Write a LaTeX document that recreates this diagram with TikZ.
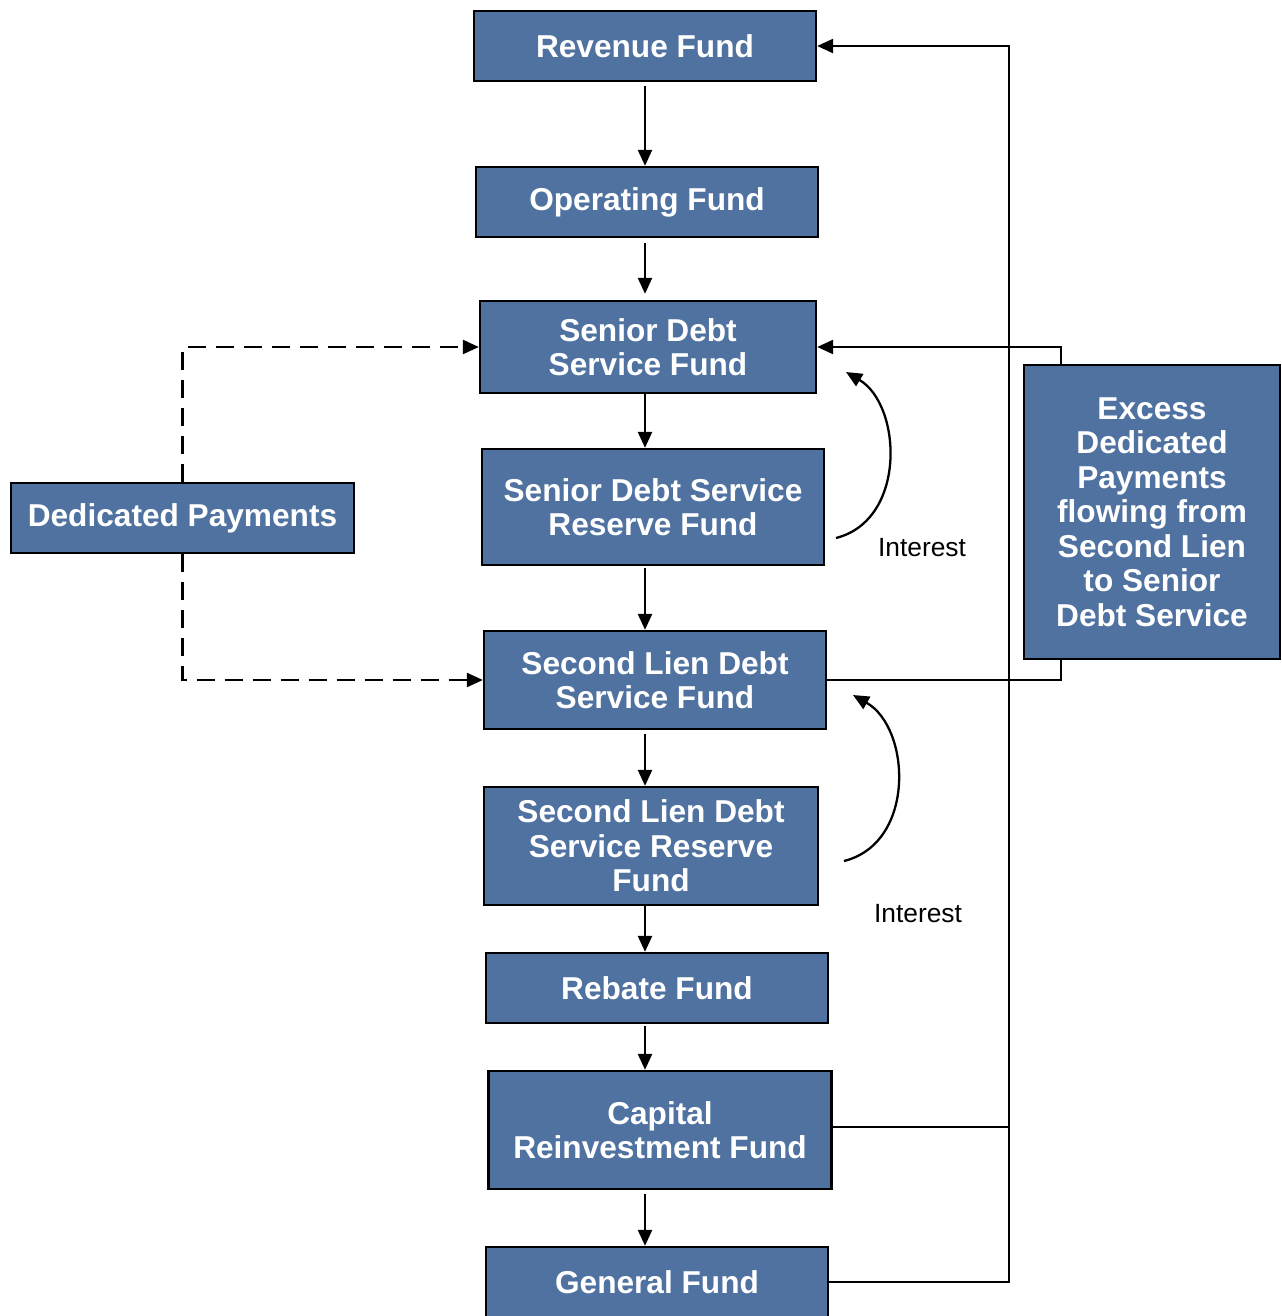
\documentclass[tikz,border=0pt]{standalone}
\usepackage{fontspec}
\setmainfont{Liberation Sans}
\usepackage{tikz}
\usetikzlibrary{arrows.meta}
\definecolor{fundblue}{HTML}{4F72A0}
\tikzset{
  fund/.style={draw=black, line width=0.65pt, fill=fundblue, text=white, align=center, inner sep=0pt,
    font=\fontsize{9}{9.8}\selectfont\bfseries},
  flow/.style={line width=0.65pt, -{Triangle[length=0.16cm, width=0.14cm]}},
  link/.style={line width=0.65pt},
  tag/.style={font=\fontsize{7.5}{9}\selectfont, inner sep=0pt}
}
\begin{document}
\begin{tikzpicture}
			%%%%% START %%%%%
			\useasboundingbox (0, 0) rectangle (12.82, -13.16);
			
			\node[fund, minimum width=3.42cm, minimum height=0.70cm] (rev) at (6.45, -0.46) {Revenue Fund};
			\node[fund, minimum width=3.42cm, minimum height=0.70cm] (op) at (6.47, -2.02) {Operating Fund};
			\node[fund, minimum width=3.36cm, minimum height=0.92cm] (sds) at (6.48, -3.47) {Senior Debt\\Service Fund};
			\node[fund, minimum width=3.42cm, minimum height=1.16cm] (sdsr) at (6.53, -5.07) {Senior Debt Service\\Reserve Fund};
			\node[fund, minimum width=3.42cm, minimum height=0.98cm] (sld) at (6.55, -6.80) {Second Lien Debt\\Service Fund};
			\node[fund, minimum width=3.34cm, minimum height=1.18cm] (sldr) at (6.51, -8.46) {Second Lien Debt\\Service Reserve\\Fund};
			\node[fund, minimum width=3.42cm, minimum height=0.70cm] (reb) at (6.57, -9.88) {Rebate Fund};
			\node[fund, minimum width=3.43cm, minimum height=1.18cm] (cap) at (6.60, -11.30) {Capital\\Reinvestment Fund};
			\node[fund, minimum width=3.42cm, minimum height=0.70cm] (gen) at (6.57, -12.82) {General Fund};
			
			\node[fund, minimum width=3.43cm, minimum height=0.70cm] (ded) at (1.825, -5.18) {Dedicated Payments};
			
			% main chain
			\draw[flow, shorten <=0.04cm] (rev.south -| rev) -- (op.north -| rev);
			\draw[flow, shorten <=0.05cm, shorten >=0.06cm] (op.south -| rev) -- (sds.north -| rev);
			\draw[flow] (sds.south -| rev) -- (sdsr.north -| rev);
			\draw[flow, shorten <=0.02cm] (sdsr.south -| rev) -- (sld.north -| rev);
			\draw[flow, shorten <=0.04cm] (sld.south -| rev) -- (sldr.north -| rev);
			\draw[flow] (sldr.south -| rev) -- (reb.north -| rev);
			\draw[flow, shorten <=0.02cm] (reb.south -| rev) -- (cap.north -| rev);
			\draw[flow, shorten <=0.04cm] (cap.south -| rev) -- (gen.north -| rev);
			
			% return to revenue
			\coordinate (trunk) at (10.09, -0.46);
			\draw[flow] (gen.east) -| (trunk) -- (rev.east);
			\draw[link] ([yshift=0.03cm]cap.east) -- ([yshift=0.03cm]cap.east -| trunk);
			
			% dedicated payments
			\draw[flow, dash pattern=on 0.18cm off 0.1cm] (ded.north) |- (sds.west);
			\draw[flow, dash pattern=on 0.18cm off 0.1cm] (ded.south) |- (sld.west);
			
			% excess loop
			\coordinate (loop) at (10.61, -5.12);
			\draw[flow] (sld.east) -| (loop) |- (sds.east);
			
			% interest
			\coordinate (i1a) at (8.36, -5.38);
			\coordinate (i1b) at (8.46, -3.72);
			\coordinate (i2a) at (8.44, -8.61);
			\coordinate (i2b) at (8.53, -6.95);
			\draw[flow] (i1a) .. controls (9.07, -5.2) and (9.02, -4.05) .. (i1b);
			\draw[flow] (i2a) .. controls (9.16, -8.43) and (9.11, -7.28) .. (i2b);
			\node[tag] (int1) at (9.22, -5.48) {Interest};
			\node[tag] (int2) at (9.18, -9.14) {Interest};
			
			\node[fund, minimum width=2.56cm, minimum height=2.94cm] (exc) at (11.52, -5.12) {Excess\\Dedicated\\Payments\\flowing from\\Second Lien\\to Senior\\Debt Service};
			%%%%% END %%%%%
		\end{tikzpicture}
\end{document}
